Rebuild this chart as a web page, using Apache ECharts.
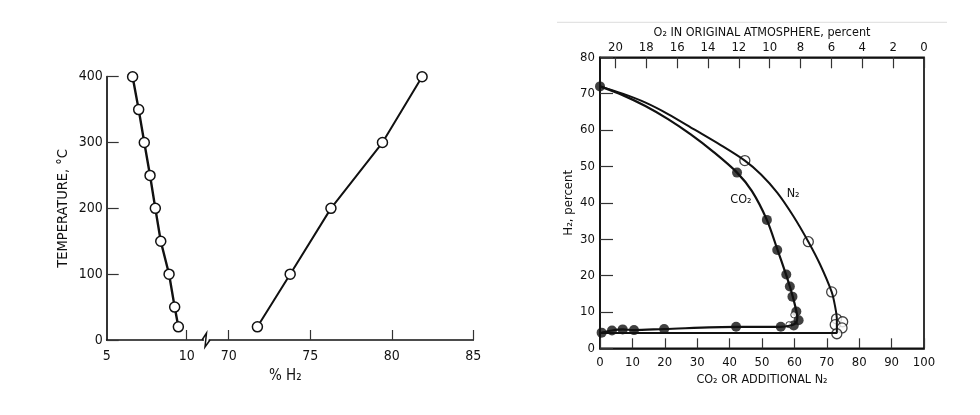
<!DOCTYPE html>
<html>
<head>
<meta charset="utf-8">
<script src="https://cdn.jsdelivr.net/npm/echarts@6/dist/echarts.min.js"></script>
<style>
  html, body { margin: 0; padding: 0; background: #fff; }
  #main { width: 980px; height: 415px; }
</style>
</head>
<body>
<div id="main"></div>
<script>
// left panel: temperature vs % H2 (two branches, broken x axis)
var h2Low = [6.62, 7.0, 7.35, 7.71, 8.04, 8.38, 8.9, 9.25, 9.48];
var tempLow = [400, 350, 300, 250, 200, 150, 100, 50, 20];
var h2High = [71.76, 73.77, 76.27, 79.43, 81.86];
var tempHigh = [20, 100, 200, 300, 400];
var lowTickLabels = [5, 10];
var highTickLabels = [70, 75, 80, 85];

// right panel: H2 percent vs CO2 or additional N2
var co2X = [0, 42.3, 51.5, 54.7, 57.5, 58.6, 59.4, 60.6, 61.3, 59.8, 55.8, 42, 19.8, 10.5, 7, 3.7, 0.5];
var co2Y = [72, 48.3, 35.3, 27, 20.3, 17, 14.2, 10.1, 7.7, 6.3, 5.9, 5.9, 5.3, 5, 5.2, 4.9, 4.3];
var co2OpenX = [58.3, 59.8];
var co2OpenY = [6.5, 9.2];
// curves as printed
var co2CurveX = [0, 7, 14, 21, 28, 35, 42.3, 46.9, 51.5, 54.7, 57.4, 58.6, 59.5, 60.4, 60.9, 60.4, 58.5, 55.8, 42, 19.8, 10.5, 7, 3.7, 0.5];
var co2CurveY = [72, 69.6, 66.6, 63, 58.8, 54, 48.3, 43.2, 35.3, 27.3, 20.3, 17, 14.2, 11, 8.5, 6.9, 6.2, 5.9, 5.9, 5.3, 5, 5.2, 4.9, 4.3];
var n2X = [44.7, 64.3, 71.5, 73, 74.9, 72.6, 74.7, 73.1];
var n2Y = [51.6, 29.3, 15.5, 8.1, 7.3, 6.5, 5.6, 4];
var n2CurveX = [0, 7, 13.9, 21, 29.2, 37, 44.7, 49.7, 54.7, 59.7, 64.3, 67.9, 71.5, 72.5, 73.1, 73.1, 40, 0];
var n2CurveY = [72, 70, 67.6, 64.4, 60.1, 56, 51.6, 47.8, 42.8, 36.3, 29.3, 23.1, 15.5, 11.8, 8, 4.2, 4.2, 4.2];
var o2Ticks = [0, 2, 4, 6, 8, 10, 12, 14, 16, 18, 20];

function pairs(xs, ys) {
    return xs.map(function (x, i) { return [x, ys[i]]; });
}

var chart = echarts.init(document.getElementById('main'));
var FONT = "'DejaVu Sans Condensed', 'Liberation Sans', Arial, sans-serif";
var INK = '#111';

var lineAxis = { lineStyle: { color: INK, width: 1.7 } };
var tickIn = function (len) {
    return { show: true, inside: true, length: len, lineStyle: { color: '#333', width: 1.2 } };
};
var labelStyle = function (size, margin) {
    return { color: INK, fontFamily: FONT, fontSize: size, margin: margin };
};
var nameStyle = function (size) {
    return { color: INK, fontFamily: FONT, fontSize: size };
};

var option = {
    animation: false,
    backgroundColor: '#fff',
    textStyle: { fontFamily: FONT },
    grid: [
        { left: 106.7, top: 76.7, width: 96.6, height: 263.3, outerBoundsMode: 'none' },
        { left: 209.3, top: 76.7, width: 264, height: 263.3, outerBoundsMode: 'none' },
        { left: 600, top: 57.3, width: 324, height: 291, outerBoundsMode: 'none',
          show: true, borderColor: INK, borderWidth: 1.7, backgroundColor: 'transparent' }
    ],
    xAxis: [
        {
            gridIndex: 0, type: 'value', min: 5, max: 11.04,
            axisLine: lineAxis, splitLine: { show: false },
            axisTick: Object.assign(tickIn(10), { customValues: [10] }),
            axisLabel: Object.assign(labelStyle(14, 9), { customValues: lowTickLabels })
        },
        {
            gridIndex: 1, type: 'value', min: 68.81, max: 85,
            axisLine: lineAxis, splitLine: { show: false },
            axisTick: Object.assign(tickIn(10), { customValues: highTickLabels }),
            axisLabel: Object.assign(labelStyle(14, 9), { customValues: highTickLabels })
        },
        {
            gridIndex: 2, type: 'value', min: 0, max: 100, interval: 10,
            axisLine: lineAxis, splitLine: { show: false },
            axisTick: tickIn(10),
            axisLabel: labelStyle(13, 8),
            name: 'CO₂ OR ADDITIONAL N₂', nameLocation: 'middle', nameGap: 25,
            nameMoveOverlap: false,
            nameTextStyle: nameStyle(12.5)
        },
        {
            gridIndex: 2, type: 'value', position: 'top', min: 0, max: 21, inverse: true,
            axisLine: lineAxis, splitLine: { show: false },
            axisTick: Object.assign(tickIn(11), { customValues: o2Ticks }),
            axisLabel: Object.assign(labelStyle(13, 3), { customValues: o2Ticks }),
            name: 'O₂ IN ORIGINAL ATMOSPHERE, percent', nameLocation: 'middle', nameGap: 18,
            nameMoveOverlap: false,
            nameTextStyle: nameStyle(12.5)
        }
    ],
    yAxis: [
        {
            gridIndex: 0, type: 'value', min: 0, max: 400, interval: 100,
            axisLine: lineAxis, splitLine: { show: false },
            axisTick: tickIn(12),
            axisLabel: labelStyle(14, 4),
            name: 'TEMPERATURE, °C', nameLocation: 'middle', nameGap: 36, nameRotate: 90,
            nameMoveOverlap: false,
            nameTextStyle: nameStyle(14.5)
        },
        {
            gridIndex: 1, type: 'value', min: 0, max: 400, show: false
        },
        {
            gridIndex: 2, type: 'value', min: 0, max: 80, interval: 10,
            axisLine: lineAxis, splitLine: { show: false },
            axisTick: tickIn(13),
            axisLabel: labelStyle(13, 5),
            name: 'H₂, percent', nameLocation: 'middle', nameGap: 25, nameRotate: 90,
            nameMoveOverlap: false,
            nameTextStyle: nameStyle(13)
        }
    ],
    series: [
        {
            type: 'line', xAxisIndex: 0, yAxisIndex: 0,
            data: pairs(h2Low, tempLow),
            symbol: 'circle', symbolSize: 10,
            lineStyle: { color: INK, width: 2.4 },
            itemStyle: { color: '#fff', borderColor: INK, borderWidth: 1.5 }
        },
        {
            type: 'line', xAxisIndex: 1, yAxisIndex: 1,
            data: pairs(h2High, tempHigh),
            symbol: 'circle', symbolSize: 10,
            lineStyle: { color: INK, width: 2 },
            itemStyle: { color: '#fff', borderColor: INK, borderWidth: 1.5 }
        },
        {
            type: 'line', xAxisIndex: 2, yAxisIndex: 2,
            data: pairs(co2CurveX, co2CurveY),
            symbol: 'none', smooth: 0.3,
            lineStyle: { color: INK, width: 2.2 },
            markPoint: {
                symbol: 'rect', symbolSize: 1, itemStyle: { color: 'transparent' },
                label: { show: true, formatter: 'CO₂', color: INK, fontFamily: FONT, fontSize: 12.5 },
                data: [{ coord: [43.5, 40.8] }]
            }
        },
        {
            type: 'line', xAxisIndex: 2, yAxisIndex: 2,
            data: pairs(n2CurveX, n2CurveY),
            symbol: 'none', smooth: 0.3,
            lineStyle: { color: INK, width: 2 },
            markPoint: {
                symbol: 'rect', symbolSize: 1, itemStyle: { color: 'transparent' },
                label: { show: true, formatter: 'N₂', color: INK, fontFamily: FONT, fontSize: 12.5 },
                data: [{ coord: [59.6, 42.6] }]
            }
        },
        {
            type: 'scatter', xAxisIndex: 2, yAxisIndex: 2,
            data: pairs(co2X, co2Y),
            symbol: 'circle', symbolSize: 10,
            itemStyle: { color: INK }
        },
        {
            type: 'scatter', xAxisIndex: 2, yAxisIndex: 2,
            data: pairs(co2OpenX, co2OpenY),
            symbol: 'circle', symbolSize: 6,
            itemStyle: { color: '#fff', borderColor: INK, borderWidth: 1 }
        },
        {
            type: 'scatter', xAxisIndex: 2, yAxisIndex: 2,
            data: pairs(n2X, n2Y),
            symbol: 'circle', symbolSize: 10,
            itemStyle: { color: '#fff', borderColor: INK, borderWidth: 1.3 }
        }
    ],
    graphic: [
        // axis break mark
        {
            type: 'polyline', z: 10,
            shape: { points: [[202, 340], [206.5, 333], [205, 347], [210, 340]] },
            style: { stroke: INK, lineWidth: 1.5, fill: null }
        },
        {
            type: 'text', left: 269, top: 369,
            style: { text: '% H₂', fill: INK, font: '15px ' + FONT }
        },
        // faint scan line above the right panel
        {
            type: 'line',
            shape: { x1: 557, y1: 22.3, x2: 947, y2: 22.3 },
            style: { stroke: '#dcdcdc', lineWidth: 1 }
        }
    ]
};
chart.setOption(option);
</script>
</body>
</html>
